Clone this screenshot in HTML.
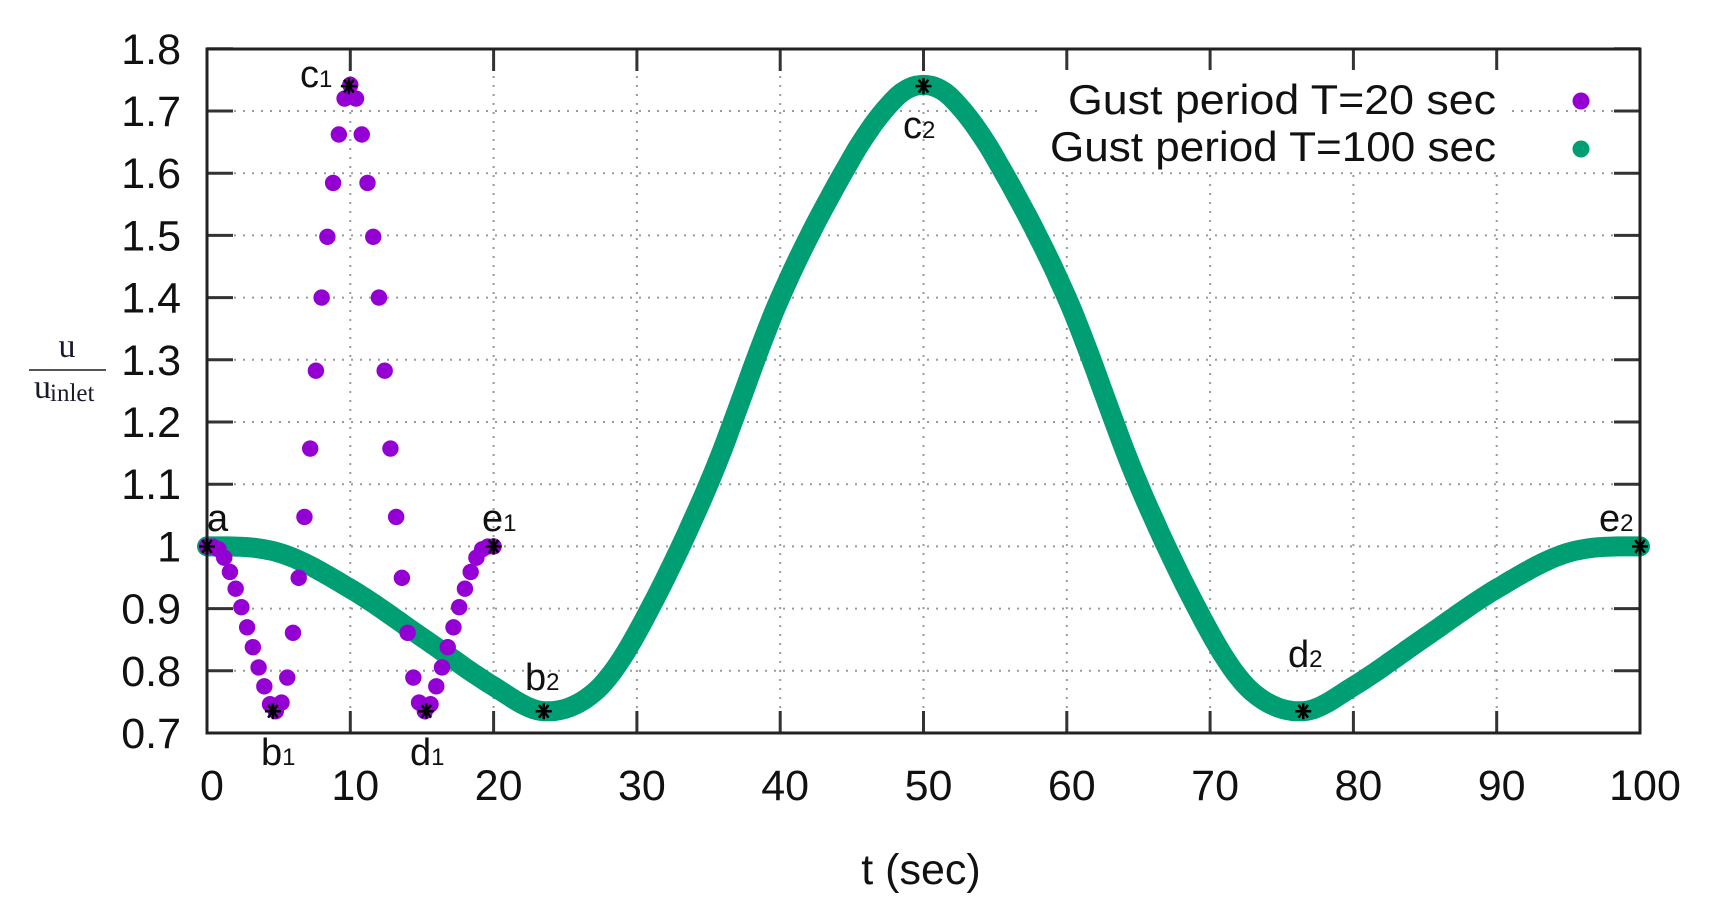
<!DOCTYPE html>
<html><head><meta charset="utf-8"><style>
html,body{margin:0;padding:0;background:#fff;}
svg{display:block;}
</style></head><body>
<svg id="s" width="1710" height="919" xmlns="http://www.w3.org/2000/svg" font-family="'Liberation Sans', sans-serif">
<rect width="1710" height="919" fill="#fff"/>
<g id="grid" stroke="#9a9a9a" stroke-width="2" stroke-dasharray="2,7"></g>
<g id="ticks" stroke="#333" stroke-width="3"></g>
<g id="labels" font-size="43" fill="#111"></g>
<g id="data"></g>
<rect x="207" y="49" width="1433" height="684" fill="none" stroke="#222" stroke-width="3"/>
<rect x="1040" y="70" width="470" height="100" fill="#fff"/>
<text x="1496" y="114" font-size="42" text-anchor="end" textLength="428" lengthAdjust="spacingAndGlyphs" fill="#111">Gust period T=20 sec</text>
<text x="1496" y="161" font-size="42" text-anchor="end" textLength="446" lengthAdjust="spacingAndGlyphs" fill="#111">Gust period T=100 sec</text>
<circle cx="1581" cy="101" r="8.5" fill="#9400d3"/>
<circle cx="1581" cy="149" r="8.5" fill="#009e73"/>
<g font-family="'Liberation Serif', serif" fill="#1a1a2e">
<text x="67" y="357" font-size="34" text-anchor="middle">u</text>
<line x1="29" y1="370" x2="106" y2="370" stroke="#555" stroke-width="2"/>
<text x="34" y="398" font-size="34">u</text>
<text x="50" y="401" font-size="25">inlet</text>
</g>
<text x="921" y="884" font-size="43" text-anchor="middle" fill="#111">t (sec)</text>
<g id="marks" font-size="38" fill="#111"></g>
</svg>
<script>
var NS="http://www.w3.org/2000/svg";
function X(t){return 207+t*14.33;}
function Y(v){return 733-(v-0.7)*622;}
function el(p,n,a,txt){var e=document.createElementNS(NS,n);for(var k in a)e.setAttribute(k,a[k]);if(txt!==undefined)e.textContent=txt;document.getElementById(p).appendChild(e);return e;}
for(var i=1;i<10;i++){el('grid','line',{x1:X(i*10),y1:49,x2:X(i*10),y2:733});}
for(var j=1;j<11;j++){var v=0.7+j*0.1;el('grid','line',{x1:207,y1:Y(v),x2:1640,y2:Y(v)});}
for(var i=0;i<=10;i++){var x=X(i*10);el('ticks','line',{x1:x,y1:733,x2:x,y2:711});el('ticks','line',{x1:x,y1:49,x2:x,y2:71});
el('labels','text',{x:x+5,y:800,'text-anchor':'middle'},String(i*10));}
for(var j=0;j<=11;j++){var v=0.7+j*0.1,y=Y(v);el('ticks','line',{x1:207,y1:y,x2:233,y2:y});el('ticks','line',{x1:1640,y1:y,x2:1614,y2:y});
var s=(Math.round(v*10)/10).toString();el('labels','text',{x:181,y:y+15,'text-anchor':'end'},s);}
var K=[[0,1],[5,0.99],[10,0.932],[15,0.854],[20,0.775],[23.5,0.735],[27,0.765],[30,0.861],[35,1.10],[40,1.40],[45,1.625],[48,1.72],[50,1.742]];
function f(t){if(t>50)t=100-t;if(t<0)t=0;
for(var i=0;i<K.length-1;i++){if(t<=K[i+1][0]){var p0=K[Math.max(0,i-1)],p1=K[i],p2=K[i+1],p3=K[Math.min(K.length-1,i+2)];
if(i==0)p0=[-p2[0],p2[1]];if(i==K.length-2)p3=[100-p1[0],p1[1]];
var h=p2[0]-p1[0],u=(t-p1[0])/h;
var m1=(p2[1]-p0[1])/(p2[0]-p0[0])*h,m2=(p3[1]-p1[1])/(p3[0]-p1[0])*h;
var u2=u*u,u3=u2*u;return (2*u3-3*u2+1)*p1[1]+(u3-2*u2+u)*m1+(-2*u3+3*u2)*p2[1]+(u3-u2)*m2;}}return 1.742;}
var pts=[];for(var t=0;t<=100.001;t+=0.25){pts.push(X(t).toFixed(1)+','+Y(f(t)).toFixed(1));}
el('data','polyline',{points:pts.join(' '),fill:'none',stroke:'#009e73','stroke-width':20,'stroke-linecap':'round','stroke-linejoin':'round'});
for(var t=0;t<=20.001;t+=0.4){el('data','circle',{cx:X(t),cy:Y(f(t*5)),r:8.2,fill:'#9400d3'});}
var st=[[0,1],[4.6,0.735],[9.9,1.74],[15.3,0.735],[20,1],[23.5,0.735],[50,1.74],[76.5,0.735],[100,1]];
st.forEach(function(p){var x=X(p[0]),y=Y(p[1]),r=8;var d='M'+(x-r)+' '+y+'H'+(x+r)+'M'+(x-r*0.6)+' '+(y-r*0.8)+'L'+(x+r*0.6)+' '+(y+r*0.8)+'M'+(x-r*0.6)+' '+(y+r*0.8)+'L'+(x+r*0.6)+' '+(y-r*0.8)+'M'+x+' '+(y-r)+'V'+(y+r);
el('marks','path',{d:d,stroke:'#000','stroke-width':2.5,fill:'none'});});
var L=[['a','',207,531],['c','1',300,87],['e','1',482,531],['b','1',261,765],['d','1',410,765],['b','2',525,690],['c','2',903,138],['d','2',1288,667],['e','2',1599,531]];
L.forEach(function(l){var t=el('marks','text',{x:l[2],y:l[3]},l[0]);if(l[1]){var s=document.createElementNS(NS,'tspan');s.setAttribute('font-size','24');s.textContent=l[1];t.appendChild(s);}});
</script>
</body></html>
